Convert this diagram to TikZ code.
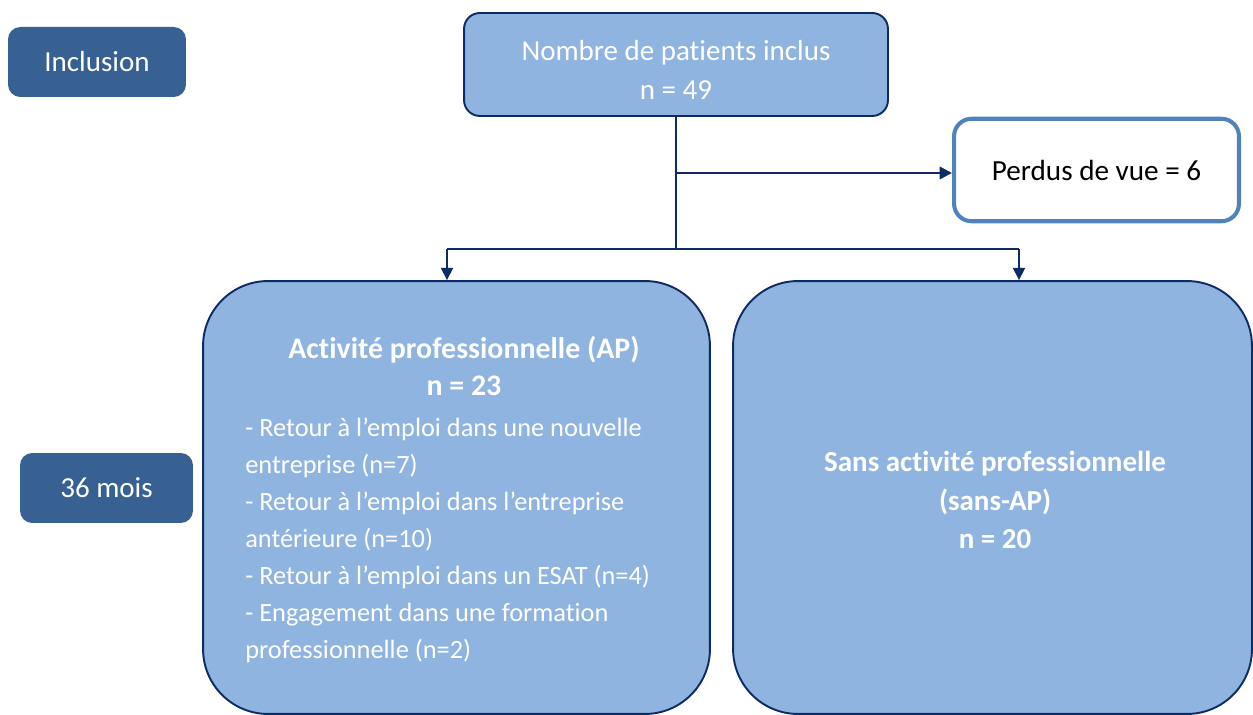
\documentclass[tikz,border=0pt]{standalone}
\usepackage{fontspec}
\setmainfont{Carlito}[Ligatures=CommonOff]
\usetikzlibrary{arrows.meta}
\definecolor{fonce}{HTML}{386193}
\definecolor{clair}{HTML}{8FB4E0}
\definecolor{marine}{HTML}{0F2B66}
\definecolor{cadre}{HTML}{5082BE}

\begin{document}
\begin{tikzpicture}[x=0.02cm, y=-0.02cm,
    etape/.style ={rectangle, rounded corners=7pt, fill=fonce, text=white, minimum height=1.4cm, font=\fontsize{16.5}{20}\selectfont},
    effectif/.style ={rectangle, draw=marine, line width=1.1pt, fill=clair, text=white},
    texte/.style ={text=white, inner sep=0pt, font=\fontsize{15}{21}\selectfont},
    fleche/.style ={marine, line width=0.9pt, -{Triangle[length=7pt, width=7pt]}}]
   \useasboundingbox (0,0) rectangle (1253,715);

   \node[etape, minimum width=3.56cm] (inclusion) at (97,62) {Inclusion};
   \node[etape, minimum width=3.46cm] (mois) at (106.5,488) {36 mois};

   \node[effectif, rounded corners=9pt, minimum width=8.48cm, minimum height=2.06cm] (inclus) at (676,64.5) {};
   \node[texte, align=center, font=\fontsize{16.5}{22.7}\selectfont] (titreinclus) at (676,70) {Nombre de patients inclus\\n = 49};
   \node[rectangle, rounded corners=10pt, draw=cadre, line width=2.3pt, fill=white,
         minimum width=5.7cm, minimum height=2.05cm, font=\fontsize{16.6}{20}\selectfont] (perdus) at (1096.5,170) {Perdus de vue = 6};

   \node[effectif, rounded corners=1.3cm, minimum width=10.14cm, minimum height=8.66cm] (ap) at (456.5,497.5) {};
   \node[effectif, rounded corners=1.3cm, minimum width=10.38cm, minimum height=8.66cm] (sansap) at (992.5,497.5) {};

   \node[texte, align=center, font=\fontsize{17}{21}\selectfont\bfseries] (titreap) at (464,366) {Activité professionnelle (AP)\\n = 23};
   \node[texte, align=left, anchor=north west] (liste) at (245,418) {- Retour à l’emploi dans une nouvelle\\entreprise (n=7)\\- Retour à l’emploi dans l’entreprise\\antérieure (n=10)\\- Retour à l’emploi dans un ESAT (n=4)\\- Engagement dans une formation\\professionnelle (n=2)};
   \node[texte, align=center, font=\fontsize{16.5}{22}\selectfont\bfseries] (titresans) at (995,500) {Sans activité professionnelle\\(sans-AP)\\n = 20};

   \coordinate (bras) at (676,173);
   \coordinate (jonction) at (676,249);
   \coordinate (gauche) at (447,249);
   \coordinate (droite) at (1019,249);

   \draw[marine, line width=0.9pt] (inclus.south) -- (jonction);
   \draw[fleche, line width=1.4pt] (bras) -- (bras -| perdus.west);
   \draw[marine, line width=0.9pt] (gauche) -- (droite);
   \draw[fleche] (gauche) -- (gauche |- ap.north);
   \draw[fleche] (droite) -- (droite |- sansap.north);
 \end{tikzpicture}
\end{document}
